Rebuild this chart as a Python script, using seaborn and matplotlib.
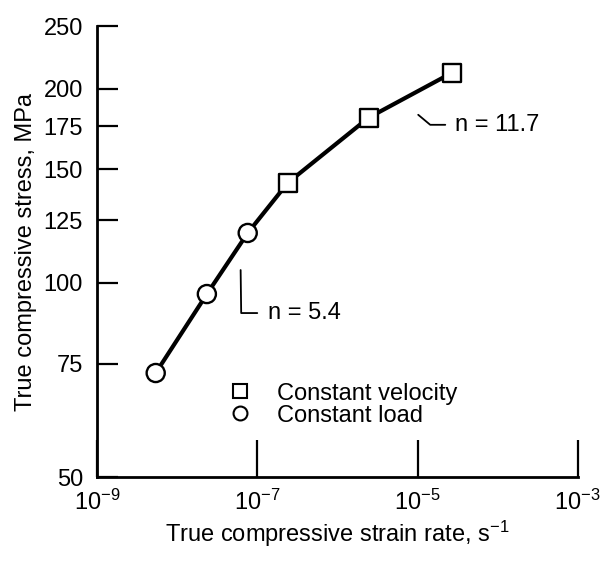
import matplotlib
matplotlib.use("Agg")
import matplotlib.pyplot as plt
import seaborn as sns
import pandas as pd
from matplotlib.lines import Line2D

# ---- data ----
strain_rate = [5.4e-9, 2.35e-8, 7.6e-8, 2.4e-7, 2.45e-6, 2.7e-5]
stress = [72.5, 96.1, 119.5, 142.9, 180.3, 211.7]
method = ["Constant load", "Constant load", "Constant load",
          "Constant velocity", "Constant velocity", "Constant velocity"]
legend_labels = ["Constant velocity", "Constant load"]
x_ticks = [1e-9, 1e-7, 1e-5, 1e-3]
x_tick_labels = [r"$10^{-9}$", r"$10^{-7}$", r"$10^{-5}$", r"$10^{-3}$"]
y_ticks = [50, 75, 100, 125, 150, 175, 200, 250]
y_tick_labels = ["50", "75", "100", "125", "150", "175", "200", "250"]

df = pd.DataFrame({"rate": strain_rate, "stress": stress, "method": method})

sns.set_theme(style="ticks")
plt.rcParams["font.family"] = ["Liberation Sans", "DejaVu Sans"]
plt.rcParams["mathtext.fontset"] = "custom"
plt.rcParams["mathtext.rm"] = "Liberation Sans"
plt.rcParams["mathtext.it"] = "Liberation Sans"
plt.rcParams["text.color"] = "black"
plt.rcParams["axes.labelcolor"] = "black"
plt.rcParams["xtick.color"] = "black"
plt.rcParams["ytick.color"] = "black"

fs = 17
fig = plt.figure(figsize=(6.14, 5.62), dpi=100)
ax = fig.add_axes([0.158, 0.151, 0.783, 0.8025])

sns.lineplot(data=df, x="rate", y="stress", ax=ax, color="black",
             linewidth=3.0, sort=False, legend=False, zorder=2)
sns.scatterplot(data=df, x="rate", y="stress", style="method",
                markers={"Constant velocity": "s", "Constant load": "o"},
                style_order=legend_labels, s=170, color="white",
                edgecolor="black", linewidth=1.7, ax=ax, legend=False, zorder=3)

ax.set_xscale("log")
ax.set_yscale("log")
ax.set_xlim(1e-9, 1e-3)
ax.set_ylim(50, 250)
ax.set_xticks(x_ticks)
ax.set_xticklabels(x_tick_labels, fontsize=fs, color="black")
ax.set_yticks(y_ticks)
ax.set_yticklabels(y_tick_labels, fontsize=fs, color="black")
ax.minorticks_off()
ax.tick_params(axis="x", direction="in", length=27, width=1.6, pad=9, colors="black")
ax.tick_params(axis="y", direction="in", length=15, width=1.6, pad=10, colors="black")
for s in ["top", "right"]:
    ax.spines[s].set_visible(False)
for s in ["left", "bottom"]:
    ax.spines[s].set_linewidth(2.0)
    ax.spines[s].set_color("black")

ax.set_xlabel(r"True compressive strain rate, s$^{-1}$", fontsize=fs, labelpad=3, color="black")
ax.set_ylabel("True compressive stress, MPa", fontsize=fs, labelpad=5, color="black")

# annotations (leader lines + slope labels)
ax.plot([6.2e-8, 6.3e-8, 1.0e-7], [104.7, 89.8, 89.8], color="black", lw=1.3)
ax.text(1.35e-7, 89.8, "n = 5.4", fontsize=fs, va="center", ha="left", color="black")
ax.plot([1.02e-5, 1.44e-5, 2.22e-5], [182.2, 175.8, 175.8], color="black", lw=1.3)
ax.text(2.95e-5, 175.8, "n = 11.7", fontsize=fs, va="center", ha="left", color="black")

handles = [Line2D([], [], linestyle="none", marker="s", markersize=10,
                  markerfacecolor="white", markeredgecolor="black", markeredgewidth=1.5),
           Line2D([], [], linestyle="none", marker="o", markersize=10,
                  markerfacecolor="white", markeredgecolor="black", markeredgewidth=1.5)]
leg = ax.legend(handles, legend_labels, loc="center left", bbox_to_anchor=(0.355, 0.28),
                bbox_transform=fig.transFigure, frameon=False, fontsize=fs,
                handlelength=0.9, handletextpad=1.1, labelspacing=0.0, borderpad=0)
for t in leg.get_texts():
    t.set_color("black")

fig.savefig("out.png", dpi=100)
